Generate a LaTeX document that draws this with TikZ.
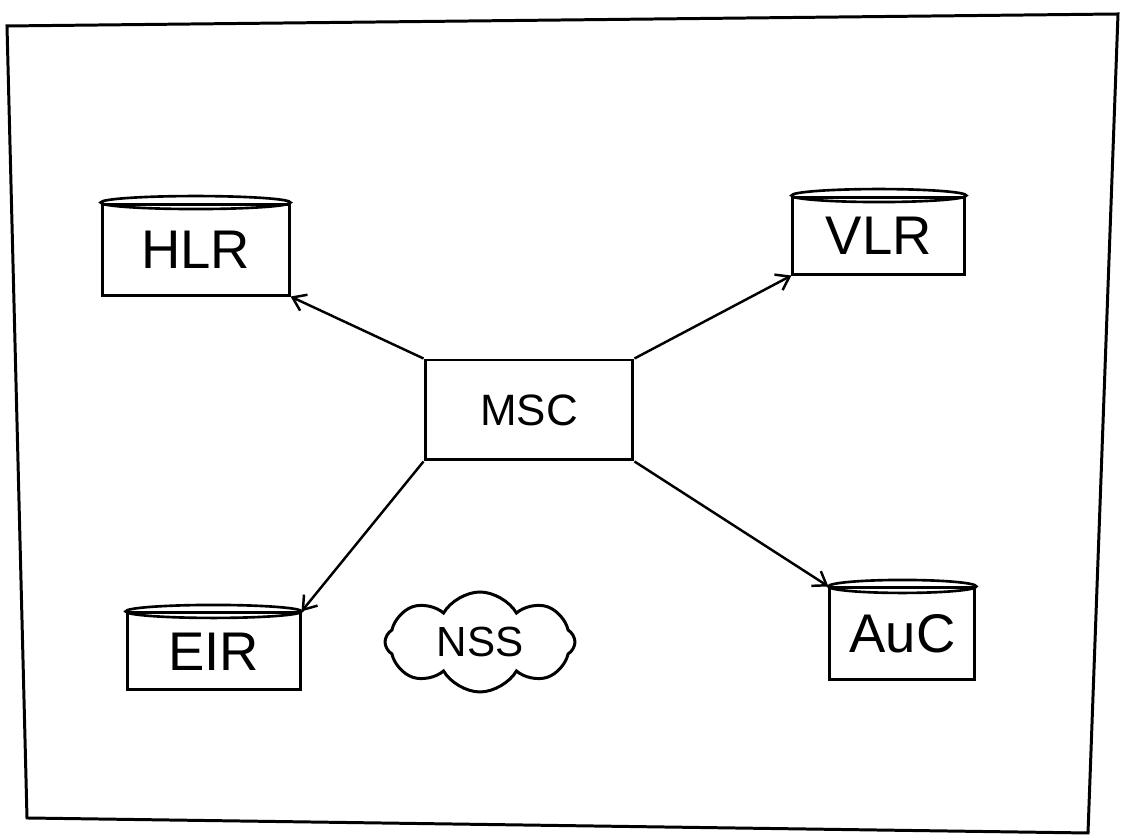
\documentclass[tikz,border=0pt]{standalone}
\usepackage{fontspec}
\setmainfont{Liberation Sans}
\usetikzlibrary{arrows.meta, positioning, shapes.symbols, calc}

\begin{document}
\begin{tikzpicture}[
    x=0.02cm, y=0.02cm,
    register/.style={rectangle, draw=black, line width=1.7pt, fill=white,
                     inner sep=0pt, font=\fontsize{31}{31}\selectfont},
    switch/.style={rectangle, draw=black, line width=1.7pt, fill=white,
                   minimum width=4.16cm, minimum height=2cm, inner sep=0pt,
                   font=\fontsize{25}{25}\selectfont},
    subsystem/.style={cloud, cloud puffs=8, cloud puff arc=120, aspect=2,
                      draw=black, line width=1.7pt, minimum width=3.8cm,
                      minimum height=2cm, inner sep=0pt,
                      font=\fontsize{24}{24}\selectfont},
    link/.style={-{Straight Barb[length=2.5mm, width=3.5mm]}, line width=1.4pt}
]
\useasboundingbox (0,0) rectangle (1134,837);

% Frame
\draw[line width=1.7pt] (7,811) -- (1118,823) -- (1088,4) -- (27,19) -- cycle;

% Define nodes
\node[switch] (msc) at (529,427) {MSC};
\node[register, minimum width=3.74cm, minimum height=1.82cm,
      above left=1.24cm and 2.66cm of msc] (hlr) {HLR};
\node[register, minimum width=3.44cm, minimum height=1.54cm,
      above right=1.66cm and 3.14cm of msc] (vlr) {VLR};
\node[register, minimum width=3.46cm, minimum height=1.54cm,
      below left=3.0cm and 2.44cm of msc] (eir) {EIR};
\node[register, minimum width=2.9cm, minimum height=1.84cm,
      below right=2.5cm and 3.88cm of msc] (auc) {AuC};
\node[subsystem] (nss) at (480,195) {NSS};

% Register tops
\foreach \reg in {hlr, vlr, eir, auc}
  \draw[line width=1.5pt] let \p1=(\reg.north west), \p2=(\reg.north east) in
    (\reg.north) ellipse ({(\x2-\x1)/2} and 0.13cm);

% Relations
\draw[link] (msc.north west) -- (hlr.south east);
\draw[link] (msc.north east) -- (vlr.south west);
\draw[link] (msc.south west) -- (eir.north east);
\draw[link] (msc.south east) -- (auc.north west);

\end{tikzpicture}
\end{document}
